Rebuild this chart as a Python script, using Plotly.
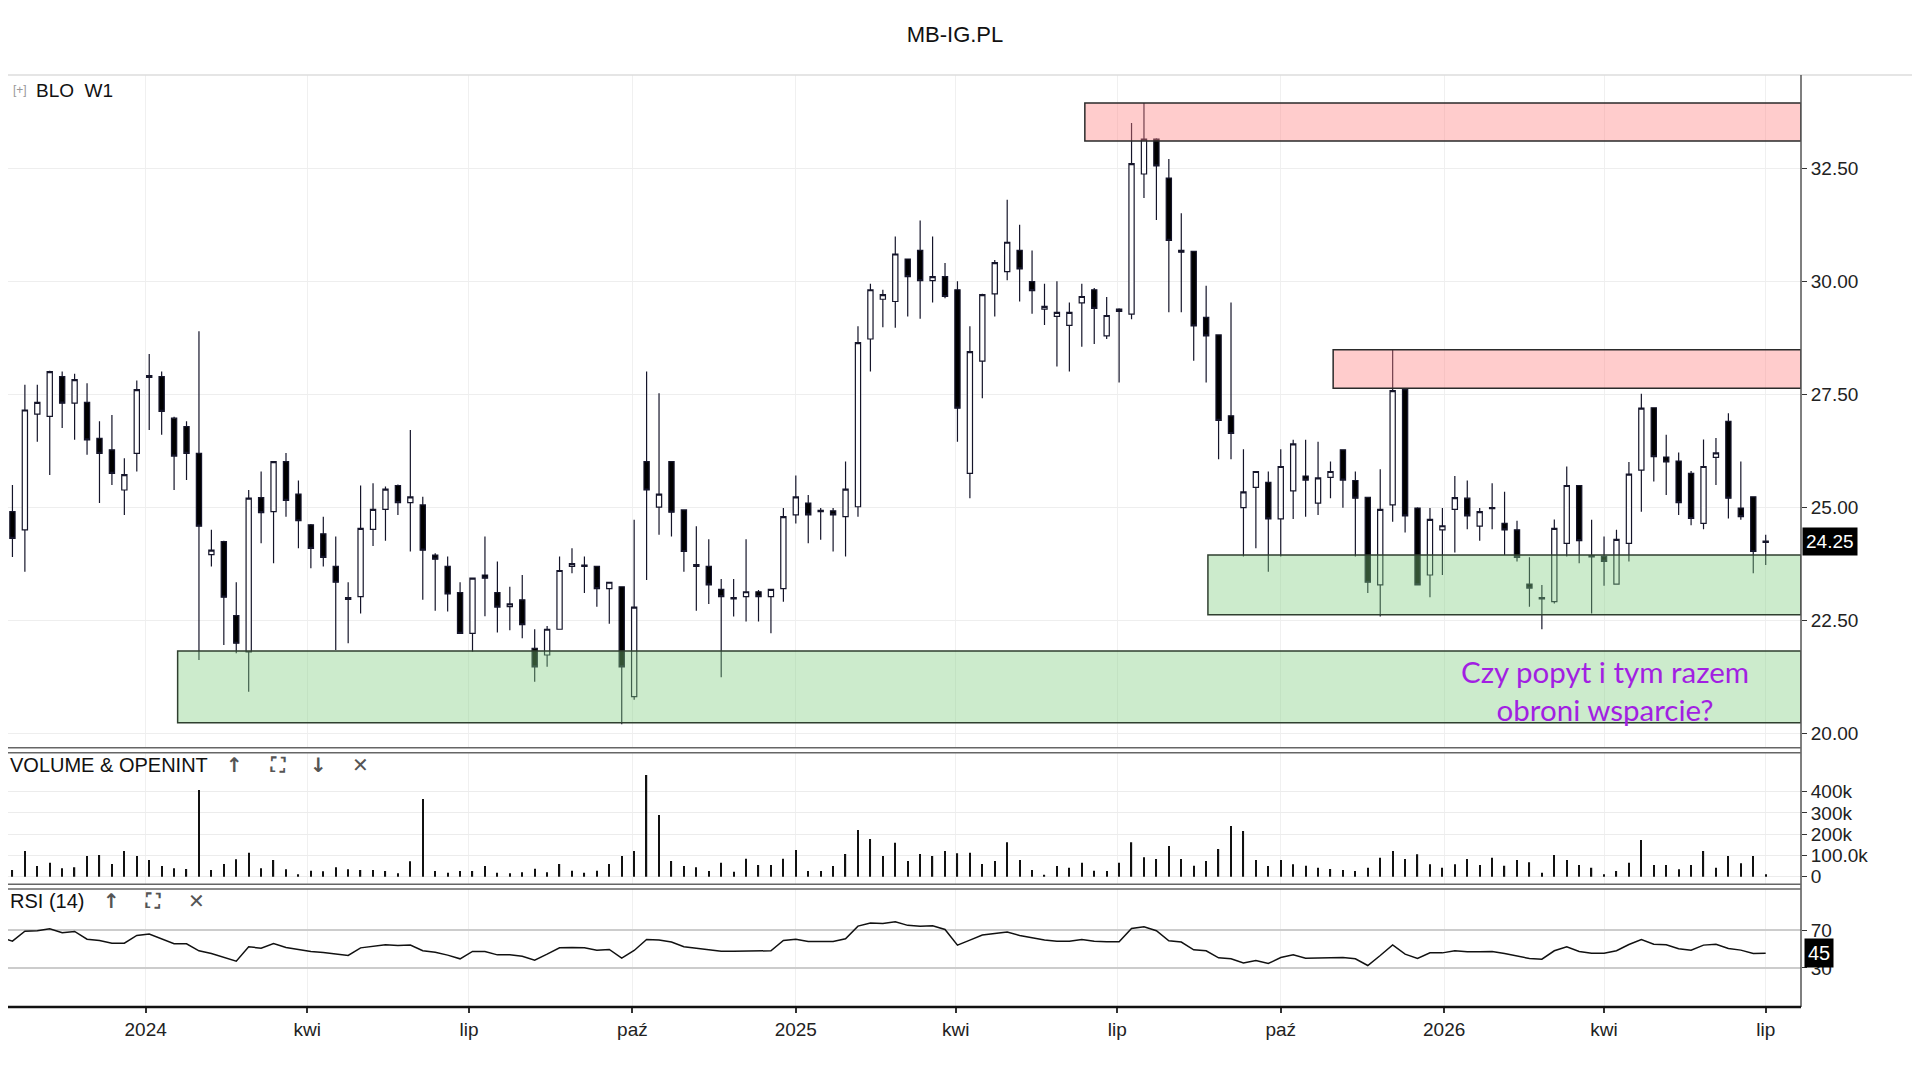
import pandas as pd
import plotly.graph_objects as go

# weekly candles, last one on 2026-07-01
last_date = "2026-07-01"

opens = [24.02, 24.90, 24.50, 27.06, 27.01, 27.89, 27.30, 27.32, 26.52, 26.27,
         25.38, 26.19, 27.87, 27.89, 26.97, 26.78, 26.19, 23.95, 24.24, 22.60,
         21.80, 25.21, 24.90, 26.01, 25.29, 24.61, 24.41, 23.69, 22.96, 23.02,
         24.51, 24.95, 25.48, 25.10, 25.05, 23.94, 23.69, 23.11, 22.21, 23.50,
         23.11, 22.80, 22.95, 21.88, 21.73, 22.30, 23.69, 23.72, 23.69, 23.20,
         23.24, 20.81, 26.01, 25.00, 26.01, 24.94, 23.69, 23.69, 23.18, 22.97,
         23.02, 23.13, 23.02, 23.20, 24.83, 25.09, 24.90, 24.92, 24.79, 25.01,
         28.72, 29.60, 29.55, 30.49, 30.68, 30.01, 30.10, 29.81, 25.75, 28.23,
         29.72, 30.21, 30.68, 29.99, 29.38, 29.22, 29.02, 29.52, 29.81, 28.79,
         29.38, 29.27, 32.37, 33.14, 32.28, 30.68, 30.66, 29.20, 28.81, 27.02,
         24.99, 25.44, 25.55, 24.74, 25.36, 25.69, 25.09, 25.66, 26.27, 25.59,
         25.22, 23.28, 25.05, 27.60, 24.98, 23.50, 24.50, 24.95, 25.20, 24.58,
         24.97, 24.64, 24.50, 23.30, 22.97, 22.91, 24.20, 25.48, 23.90, 23.91,
         23.30, 24.20, 25.82, 27.20, 26.11, 26.02, 25.75, 24.64, 26.10, 26.90,
         24.98, 25.23, 24.22]
highs = [25.94, 25.49, 27.71, 27.71, 28.02, 28.00, 27.95, 27.74, 26.90, 27.04,
         26.08, 27.80, 28.39, 28.00, 27.00, 26.90, 28.89, 24.50, 24.26, 23.34,
         25.38, 25.79, 26.01, 26.20, 25.59, 24.63, 24.79, 24.35, 23.34, 25.48,
         25.53, 25.46, 25.50, 26.71, 25.23, 23.98, 23.91, 23.34, 23.43, 24.35,
         23.80, 23.24, 23.50, 22.30, 22.37, 23.91, 24.09, 23.91, 23.70, 23.34,
         23.25, 24.72, 28.00, 27.52, 26.02, 24.95, 24.58, 24.29, 23.41, 23.41,
         24.29, 23.17, 23.18, 24.98, 25.70, 25.27, 24.98, 24.98, 26.01, 29.00,
         29.94, 29.81, 30.99, 30.50, 31.34, 30.99, 30.40, 30.00, 29.00, 29.72,
         30.47, 31.80, 31.25, 30.68, 29.94, 30.00, 29.53, 29.94, 29.85, 29.65,
         29.40, 33.50, 33.94, 33.16, 32.70, 31.50, 30.67, 29.90, 28.82, 29.53,
         26.28, 25.79, 25.79, 26.28, 26.49, 26.49, 26.45, 26.01, 26.28, 25.79,
         25.23, 25.84, 28.50, 27.62, 25.00, 24.98, 24.98, 25.69, 25.59, 24.98,
         25.53, 25.34, 24.70, 23.89, 23.28, 24.73, 25.90, 25.49, 24.72, 24.35,
         24.50, 26.00, 27.51, 27.21, 26.60, 26.21, 25.80, 26.50, 26.53, 27.08,
         26.01, 25.24, 24.39]
lows = [23.50, 23.90, 23.57, 26.45, 25.71, 26.75, 26.49, 26.16, 25.09, 25.49,
        24.83, 25.79, 26.71, 26.60, 25.38, 25.60, 21.62, 23.69, 21.95, 21.77,
        20.92, 24.20, 23.76, 24.79, 24.09, 23.65, 23.69, 21.84, 21.99, 22.65,
        24.14, 24.26, 24.83, 24.02, 22.95, 22.71, 22.69, 22.20, 21.80, 22.59,
        22.23, 22.28, 22.10, 21.14, 21.47, 22.30, 23.54, 23.10, 22.80, 22.42,
        20.20, 20.74, 23.39, 24.39, 24.35, 23.57, 22.71, 22.86, 21.24, 22.58,
        22.47, 22.47, 22.21, 22.91, 24.64, 24.20, 24.28, 24.02, 23.91, 24.79,
        28.00, 28.98, 28.97, 29.22, 29.17, 29.53, 29.62, 26.45, 25.20, 27.41,
        29.22, 30.02, 29.55, 29.28, 29.03, 28.11, 28.00, 28.55, 28.61, 28.72,
        27.76, 29.16, 31.84, 31.35, 29.31, 29.31, 28.24, 27.76, 26.06, 26.06,
        23.91, 24.09, 23.57, 23.91, 24.74, 24.79, 24.83, 25.20, 24.99, 23.91,
        23.10, 22.58, 24.68, 24.44, 23.28, 23.01, 23.50, 24.00, 24.51, 24.26,
        24.51, 23.94, 23.80, 22.80, 22.30, 22.87, 23.91, 23.76, 22.65, 23.26,
        23.30, 23.80, 24.90, 25.57, 25.27, 24.83, 24.60, 24.51, 25.49, 24.75,
        24.72, 23.54, 23.72]
closes = [24.90, 24.31, 27.15, 27.32, 28.00, 27.30, 27.82, 26.49, 26.19, 25.75,
          25.72, 27.60, 27.91, 27.12, 26.13, 26.19, 24.58, 24.05, 23.01, 21.99,
          25.20, 24.88, 26.01, 25.15, 24.70, 24.09, 23.89, 23.34, 23.00, 24.53,
          24.95, 25.40, 25.10, 25.23, 24.05, 23.85, 23.08, 22.21, 23.43, 23.43,
          22.79, 22.86, 22.40, 21.47, 22.30, 23.60, 23.75, 23.69, 23.20, 23.34,
          21.47, 22.79, 25.38, 25.29, 24.89, 24.02, 23.73, 23.28, 23.02, 23.00,
          23.13, 23.02, 23.18, 24.79, 25.23, 24.83, 24.93, 24.83, 25.40, 28.64,
          29.81, 29.70, 30.60, 30.10, 30.01, 30.10, 29.66, 27.19, 28.44, 29.70,
          30.41, 30.86, 30.27, 29.79, 29.44, 29.31, 29.31, 29.66, 29.40, 29.24,
          29.33, 32.60, 33.14, 32.55, 30.90, 30.64, 29.01, 28.79, 26.92, 26.63,
          25.34, 25.79, 24.74, 25.90, 26.40, 25.60, 25.65, 25.79, 25.60, 25.20,
          23.34, 24.95, 27.58, 24.81, 23.28, 24.73, 24.59, 25.21, 24.81, 24.90,
          24.99, 24.50, 23.89, 23.21, 23.00, 24.53, 25.48, 24.26, 23.93, 23.80,
          24.29, 25.73, 27.19, 26.12, 26.00, 25.10, 24.75, 25.90, 26.20, 25.20,
          24.79, 24.02, 24.25]

# volume in thousands
volume_k = [31.4, 31.4, 120.8, 50.2, 65.9, 39.2, 43.9, 97.3, 102.0, 59.6,
            120.8, 97.3, 78.5, 50.2, 39.2, 36.1, 408.0, 31.4, 59.6, 81.6,
            113.0, 39.2, 78.5, 34.5, 11.0, 28.2, 25.1, 43.9, 34.5, 31.4,
            31.4, 26.7, 15.7, 72.2, 365.6, 26.7, 18.8, 26.7, 26.7, 50.2,
            18.8, 15.7, 20.4, 37.7, 20.4, 59.6, 28.2, 18.8, 28.2, 59.6,
            97.3, 120.8, 478.5, 290.3, 73.7, 50.2, 43.9, 26.7, 65.9, 23.5,
            84.7, 54.9, 54.9, 84.7, 125.5, 26.7, 26.7, 50.2, 106.7, 219.7,
            177.3, 97.3, 160.0, 73.7, 106.7, 97.3, 120.8, 109.8, 113.0, 59.6,
            73.7, 161.6, 78.5, 31.4, 7.8, 50.2, 42.4, 65.9, 28.2, 26.7,
            65.9, 161.6, 91.0, 83.2, 144.3, 83.2, 51.8, 73.7, 130.2, 238.5,
            215.0, 78.5, 50.2, 78.5, 58.1, 51.8, 42.4, 36.1, 31.4, 26.7,
            42.4, 89.4, 120.8, 83.2, 105.1, 58.1, 42.4, 58.1, 83.2, 54.9,
            89.4, 51.8, 78.5, 67.5, 18.8, 102.0, 78.5, 54.9, 42.4, 11.0,
            26.7, 65.9, 172.6, 54.9, 54.9, 34.5, 54.9, 120.8, 42.4, 97.3,
            62.8, 97.3, 11.0]

rsi = [62.2, 58.3, 68.9, 69.3, 71.4, 67.2, 68.6, 60.4, 59.0, 56.2,
       56.2, 64.3, 65.8, 60.4, 55.5, 55.5, 48.1, 45.2, 41.3, 37.1,
       52.3, 50.9, 55.8, 51.6, 49.5, 47.4, 46.3, 44.5, 43.1, 51.2,
       53.0, 54.4, 53.7, 54.1, 48.1, 46.6, 43.5, 39.6, 47.4, 47.4,
       43.8, 43.8, 42.4, 38.2, 44.5, 51.2, 51.6, 51.2, 48.8, 49.5,
       40.3, 48.4, 60.1, 59.4, 57.3, 52.3, 50.9, 49.5, 47.7, 47.7,
       48.1, 48.4, 48.1, 59.0, 60.4, 58.0, 58.0, 58.0, 60.8, 74.2,
       77.4, 77.1, 78.8, 75.0, 74.2, 74.6, 70.7, 54.1, 59.4, 64.7,
       66.5, 67.9, 64.3, 61.5, 59.4, 58.3, 58.3, 60.1, 58.3, 57.6,
       57.6, 71.8, 73.5, 69.3, 58.7, 57.3, 49.1, 48.1, 40.6, 39.6,
       35.3, 37.8, 34.6, 41.0, 43.8, 40.3, 40.6, 41.3, 41.0, 39.6,
       32.5, 43.1, 54.4, 44.5, 39.9, 45.9, 45.9, 48.1, 47.0, 47.0,
       47.4, 45.2, 42.8, 39.9, 39.2, 48.1, 52.3, 47.4, 45.6, 45.6,
       48.1, 54.8, 60.1, 55.1, 54.4, 50.2, 48.8, 54.1, 55.1, 50.5,
       48.8, 45.2, 45.5]

# supply / demand zones drawn on the chart
zone_start = ["2024-01-19", "2025-08-21", "2025-06-12 17:00", "2025-10-30 12:00"]
zone_low = [20.23, 22.62, 33.10, 27.63]
zone_high = [21.82, 23.94, 33.94, 28.48]
zone_kind = ["demand", "demand", "supply", "supply"]

tick_dates = ["2024-01-01", "2024-04-01", "2024-07-01", "2024-10-01", "2025-01-01",
              "2025-04-01", "2025-07-01", "2025-10-01", "2026-01-01", "2026-04-01",
              "2026-07-01"]
tick_names = ["2024", "kwi", "lip", "paź", "2025", "kwi", "lip", "paź", "2026", "kwi", "lip"]

price_ticks = [20.0, 22.5, 25.0, 27.5, 30.0, 32.5]
vol_ticks = [0, 100000, 200000, 300000, 400000]
vol_tick_names = ["0", "100.0k", "200k", "300k", "400k"]
rsi_ticks = [30, 70]

last_price = 24.25
last_rsi = 45

dates = pd.date_range(end=last_date, periods=len(opens), freq="7D")
volume = [v * 1000 for v in volume_k]

X_START = "2023-10-15 12:00"
X_END = "2026-07-20 21:00"

W, H = 1904, 1064
ML, MR, MT, MB = 0, 111, 67, 65
PW = W - ML - MR
PH = H - MT - MB
FONT = "Liberation Sans, Arial, sans-serif"


def px_x(x):
    return (x - ML) / PW


def px_y(y):
    return (H - MB - y) / PH


fig = go.Figure()

fig.add_trace(go.Candlestick(
    x=dates, open=opens, high=highs, low=lows, close=closes,
    increasing=dict(line=dict(color="#15152a", width=1.2), fillcolor="white"),
    decreasing=dict(line=dict(color="#15152a", width=1.2), fillcolor="black"),
    whiskerwidth=0, xaxis="x", yaxis="y", hoverinfo="x+y",
))

fig.add_trace(go.Bar(
    x=dates, y=volume, width=0.7 * 86400000,
    marker=dict(color="#111111", line=dict(width=0)),
    xaxis="x", yaxis="y2",
))

fig.add_trace(go.Scatter(
    x=dates, y=rsi, mode="lines",
    line=dict(color="#111111", width=1.5),
    xaxis="x", yaxis="y3",
))

shapes = []
for x0, lo, hi, kind in zip(zone_start, zone_low, zone_high, zone_kind):
    if kind == "demand":
        fill, edge = "rgba(128,205,128,0.4)", "#2f3f2f"
    else:
        fill, edge = "rgba(255,128,128,0.4)", "#2a2a2a"
    shapes.append(dict(type="rect", xref="x", yref="y", x0=x0, x1=X_END, y0=lo, y1=hi,
                       fillcolor=fill, line=dict(color=edge, width=1.5), layer="above"))

# frame lines
shapes.append(dict(type="line", xref="paper", yref="paper", x0=0, x1=W / PW, y0=1, y1=1,
                   line=dict(color="#dddddd", width=1.5)))
shapes.append(dict(type="line", xref="paper", yref="paper", x0=1, x1=1, y0=0, y1=1,
                   line=dict(color="#555555", width=1.5)))
for yy in [px_y(739.7), px_y(744.7), px_y(876.3), px_y(881)]:
    shapes.append(dict(type="line", xref="paper", yref="paper", x0=0, x1=1, y0=yy, y1=yy,
                       line=dict(color="#666666", width=1.5)))
shapes.append(dict(type="line", xref="paper", yref="paper", x0=0, x1=1, y0=0, y1=0,
                   line=dict(color="#111111", width=2.5)))

annotations = [
    dict(text="[+]", xref="paper", yref="paper", x=px_x(3), y=px_y(82), xanchor="left",
         yanchor="middle", showarrow=False, font=dict(size=12, color="#999999", family=FONT)),
    dict(text="BLO\u00a0 W1", xref="paper", yref="paper", x=px_x(26), y=px_y(82), xanchor="left",
         yanchor="middle", showarrow=False, font=dict(size=19, color="#111111", family=FONT)),
    dict(text="VOLUME & OPENINT", xref="paper", yref="paper", x=px_x(0), y=px_y(757),
         xanchor="left", yanchor="middle", showarrow=False,
         font=dict(size=20, color="#111111", family=FONT)),
    dict(text="RSI (14)", xref="paper", yref="paper", x=px_x(0), y=px_y(893),
         xanchor="left", yanchor="middle", showarrow=False,
         font=dict(size=20, color="#111111", family=FONT)),
    dict(text="Czy popyt i tym razem<br>obroni wsparcie?", xref="paper", yref="paper",
         x=px_x(1597), y=px_y(682), xanchor="center", yanchor="middle", showarrow=False,
         font=dict(size=29.5, color="#a21fe2", family="Lato, Open Sans, sans-serif")),
    dict(text=f"{last_price:.2f}", xref="paper", yref="y", x=1, y=last_price, xanchor="left",
         yanchor="middle", xshift=1, showarrow=False, bgcolor="black", borderpad=3,
         font=dict(size=19, color="white", family=FONT)),
    dict(text=str(last_rsi), xref="paper", yref="y3", x=1, y=45.6, xanchor="left",
         yanchor="middle", xshift=3, showarrow=False, bgcolor="black", borderpad=3,
         font=dict(size=20, color="white", family=FONT)),
]
# little pane buttons
for sym, xp, yp in [("↑", 227, 757), ("⛶", 270, 757), ("↓", 310, 757), ("✕", 352, 757),
                    ("↑", 103, 893), ("⛶", 145, 893), ("✕", 188, 893)]:
    annotations.append(dict(text=f"<b>{sym}</b>", xref="paper", yref="paper", x=px_x(xp),
                            y=px_y(yp), xanchor="center", yanchor="middle", showarrow=False,
                            font=dict(size=20, color="#555555", family="DejaVu Sans")))

fig.update_layout(
    width=W, height=H,
    margin=dict(l=ML, r=MR, t=MT, b=MB),
    paper_bgcolor="white", plot_bgcolor="white",
    showlegend=False,
    boxgap=0.4,
    font=dict(family=FONT, size=19, color="#222222"),
    title=dict(text="MB-IG.PL", x=947 / W, y=1 - 26 / H, xref="container", yref="container",
               xanchor="center", yanchor="middle", font=dict(size=22, color="#111111", family=FONT)),
    xaxis=dict(domain=[0, 1], anchor="y3", range=[X_START, X_END], type="date",
               tickvals=tick_dates, ticktext=tick_names, ticks="outside", ticklen=5,
               tickcolor="#333333", tickwidth=1.5, showgrid=True, gridcolor="#f0f0f0",
               zeroline=False, showline=False, rangeslider=dict(visible=False),
               tickfont=dict(size=19, color="#222222")),
    yaxis=dict(domain=[px_y(739.7), 1], range=[19.68, 34.56], side="right", anchor="x",
               tickvals=price_ticks, ticktext=[f"{v:.2f}" for v in price_ticks],
               ticks="outside", ticklen=5, tickcolor="#333333", showgrid=True,
               gridcolor="#eeeeee", zeroline=False, showline=False,
               tickfont=dict(size=19, color="#222222")),
    yaxis2=dict(domain=[px_y(876.3), px_y(744.7)], range=[-35800, 583500], side="right",
                anchor="x", tickvals=vol_ticks, ticktext=vol_tick_names, ticks="outside",
                ticklen=5, tickcolor="#333333", showgrid=True, gridcolor="#ececec",
                zeroline=False, showline=False, tickfont=dict(size=19, color="#222222")),
    yaxis3=dict(domain=[0, px_y(881)], range=[-11.4, 113.5], side="right", anchor="x",
                tickvals=rsi_ticks, ticks="outside", ticklen=5, tickcolor="#333333",
                showgrid=True, gridcolor="#cccccc", gridwidth=2, zeroline=False,
                showline=False, tickfont=dict(size=19, color="#222222")),
    shapes=shapes,
    annotations=annotations,
)

fig.write_html("out.html")
